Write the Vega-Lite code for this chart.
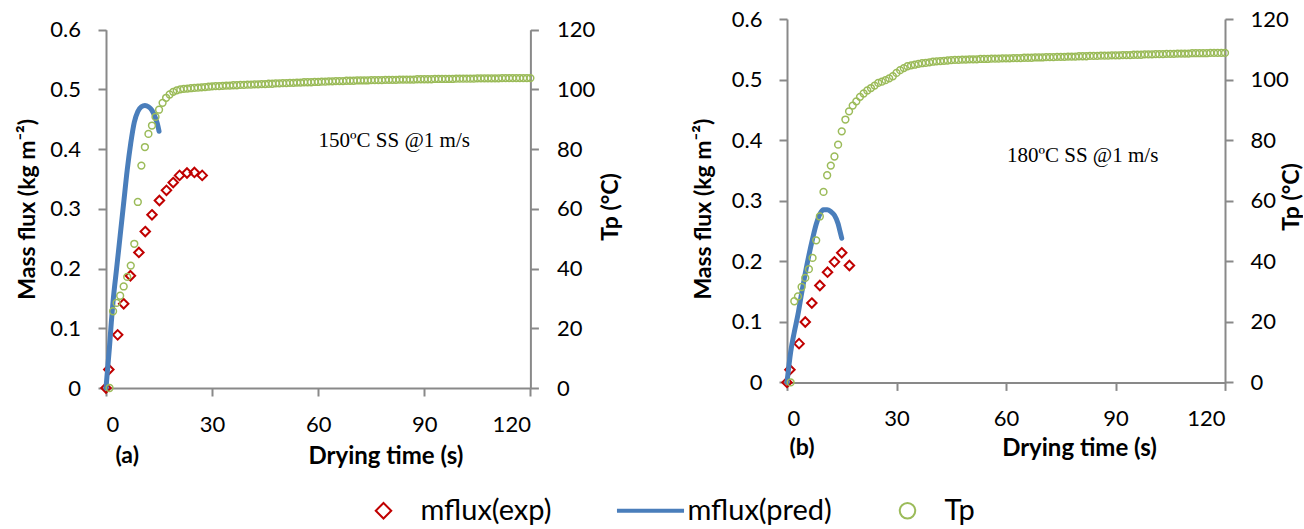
{
  "$schema": "https://vega.github.io/schema/vega-lite/v6.json",
  "background": "white",
  "padding": {"left": 16, "top": 8, "right": 0, "bottom": 0},
  "bounds": "flush",
  "spacing": 256,
  "config": {
    "view": {"stroke": null},
    "font": "Lato",
    "axis": {
      "domainColor": "#898989", "domainWidth": 2,
      "tickColor": "#898989", "tickWidth": 2, "tickSize": 8,
      "grid": false,
      "labelFont": "Lato", "labelFontSize": 22, "labelColor": "#000000", "labelPadding": 18,
      "titleFont": "Lato", "titleFontSize": 23, "titleFontWeight": "bold", "titleColor": "#000000"
    },
    "axisX": {"titleFontSize": 24},
    "legend": {
      "orient": "none", "legendX": 263, "legendY": 477, "direction": "horizontal",
      "labelFont": "Lato", "labelFontSize": 29, "labelColor": "#000000",
      "symbolSize": 240, "symbolStrokeWidth": 2, "labelOffset": 22.5, "columnPadding": 61, "padding": 0
    }
  },
  "datasets": {
    "aPred": [
      {"t": 0, "mflux": 0}, {"t": 0.5, "mflux": 0.035}, {"t": 1, "mflux": 0.07}, {"t": 1.5, "mflux": 0.11},
      {"t": 2, "mflux": 0.145}, {"t": 3, "mflux": 0.2}, {"t": 4, "mflux": 0.255}, {"t": 5, "mflux": 0.31},
      {"t": 6, "mflux": 0.365}, {"t": 7, "mflux": 0.41}, {"t": 8, "mflux": 0.445}, {"t": 9, "mflux": 0.463},
      {"t": 10, "mflux": 0.471}, {"t": 11, "mflux": 0.473}, {"t": 12, "mflux": 0.471}, {"t": 13, "mflux": 0.465},
      {"t": 14, "mflux": 0.452}, {"t": 14.5, "mflux": 0.443}, {"t": 15, "mflux": 0.43}
    ],
    "aExp": [
      {"t": 0, "mflux": 0}, {"t": 0.8, "mflux": 0.031}, {"t": 3.3, "mflux": 0.089}, {"t": 5, "mflux": 0.141},
      {"t": 6.9, "mflux": 0.188}, {"t": 9.3, "mflux": 0.227}, {"t": 11.1, "mflux": 0.262}, {"t": 13, "mflux": 0.29},
      {"t": 15.1, "mflux": 0.314}, {"t": 17.1, "mflux": 0.331}, {"t": 19, "mflux": 0.344}, {"t": 20.8, "mflux": 0.356},
      {"t": 22.9, "mflux": 0.36}, {"t": 25, "mflux": 0.361}, {"t": 27.2, "mflux": 0.356}
    ],
    "aTp": [
      {"t": 1, "Tp": 0}, {"t": 2, "Tp": 25.7}, {"t": 3, "Tp": 28.5}, {"t": 4, "Tp": 30.9}, {"t": 5, "Tp": 34.0},
      {"t": 6, "Tp": 37.2}, {"t": 7, "Tp": 41.0}, {"t": 8, "Tp": 48.3}, {"t": 9, "Tp": 62.3}, {"t": 10, "Tp": 74.5},
      {"t": 11, "Tp": 80.7}, {"t": 12, "Tp": 85.1}, {"t": 13, "Tp": 87.9}, {"t": 14, "Tp": 90.8}, {"t": 15, "Tp": 93.2},
      {"t": 16, "Tp": 95.5}, {"t": 17, "Tp": 97.2}, {"t": 18, "Tp": 98.3}, {"t": 19, "Tp": 99.2}, {"t": 20, "Tp": 99.7},
      {"t": 21, "Tp": 100.0}, {"t": 22, "Tp": 100.2}, {"t": 23, "Tp": 100.3}, {"t": 24, "Tp": 100.4}, {"t": 25, "Tp": 100.5},
      {"t": 26, "Tp": 100.6}, {"t": 27, "Tp": 100.7}, {"t": 28, "Tp": 100.8}, {"t": 29, "Tp": 100.9}, {"t": 30, "Tp": 101.0},
      {"t": 31, "Tp": 101.1}, {"t": 32, "Tp": 101.1}, {"t": 33, "Tp": 101.2}, {"t": 34, "Tp": 101.3}, {"t": 35, "Tp": 101.3},
      {"t": 36, "Tp": 101.4}, {"t": 37, "Tp": 101.4}, {"t": 38, "Tp": 101.5}, {"t": 39, "Tp": 101.5}, {"t": 40, "Tp": 101.6},
      {"t": 41, "Tp": 101.6}, {"t": 42, "Tp": 101.7}, {"t": 43, "Tp": 101.7}, {"t": 44, "Tp": 101.8}, {"t": 45, "Tp": 101.8},
      {"t": 46, "Tp": 101.9}, {"t": 47, "Tp": 101.9}, {"t": 48, "Tp": 102.0}, {"t": 49, "Tp": 102.0}, {"t": 50, "Tp": 102.1},
      {"t": 51, "Tp": 102.1}, {"t": 52, "Tp": 102.2}, {"t": 53, "Tp": 102.2}, {"t": 54, "Tp": 102.3}, {"t": 55, "Tp": 102.3},
      {"t": 56, "Tp": 102.4}, {"t": 57, "Tp": 102.4}, {"t": 58, "Tp": 102.4}, {"t": 59, "Tp": 102.5}, {"t": 60, "Tp": 102.5},
      {"t": 61, "Tp": 102.6}, {"t": 62, "Tp": 102.6}, {"t": 63, "Tp": 102.7}, {"t": 64, "Tp": 102.7}, {"t": 65, "Tp": 102.8},
      {"t": 66, "Tp": 102.8}, {"t": 67, "Tp": 102.8}, {"t": 68, "Tp": 102.9}, {"t": 69, "Tp": 102.9}, {"t": 70, "Tp": 102.9},
      {"t": 71, "Tp": 103.0}, {"t": 72, "Tp": 103.0}, {"t": 73, "Tp": 103.0}, {"t": 74, "Tp": 103.0}, {"t": 75, "Tp": 103.1},
      {"t": 76, "Tp": 103.1}, {"t": 77, "Tp": 103.1}, {"t": 78, "Tp": 103.1}, {"t": 79, "Tp": 103.2}, {"t": 80, "Tp": 103.2},
      {"t": 81, "Tp": 103.2}, {"t": 82, "Tp": 103.2}, {"t": 83, "Tp": 103.3}, {"t": 84, "Tp": 103.3}, {"t": 85, "Tp": 103.3},
      {"t": 86, "Tp": 103.3}, {"t": 87, "Tp": 103.3}, {"t": 88, "Tp": 103.4}, {"t": 89, "Tp": 103.4}, {"t": 90, "Tp": 103.4},
      {"t": 91, "Tp": 103.4}, {"t": 92, "Tp": 103.4}, {"t": 93, "Tp": 103.5}, {"t": 94, "Tp": 103.5}, {"t": 95, "Tp": 103.5},
      {"t": 96, "Tp": 103.5}, {"t": 97, "Tp": 103.5}, {"t": 98, "Tp": 103.5}, {"t": 99, "Tp": 103.6}, {"t": 100, "Tp": 103.6},
      {"t": 101, "Tp": 103.6}, {"t": 102, "Tp": 103.6}, {"t": 103, "Tp": 103.6}, {"t": 104, "Tp": 103.6}, {"t": 105, "Tp": 103.7},
      {"t": 106, "Tp": 103.7}, {"t": 107, "Tp": 103.7}, {"t": 108, "Tp": 103.7}, {"t": 109, "Tp": 103.7}, {"t": 110, "Tp": 103.7},
      {"t": 111, "Tp": 103.7}, {"t": 112, "Tp": 103.8}, {"t": 113, "Tp": 103.8}, {"t": 114, "Tp": 103.8}, {"t": 115, "Tp": 103.8},
      {"t": 116, "Tp": 103.8}, {"t": 117, "Tp": 103.8}, {"t": 118, "Tp": 103.8}, {"t": 119, "Tp": 103.8}, {"t": 120, "Tp": 103.8}
    ],
    "bPred": [
      {"t": 0, "mflux": 0}, {"t": 1, "mflux": 0.05}, {"t": 2, "mflux": 0.083}, {"t": 3, "mflux": 0.112},
      {"t": 4, "mflux": 0.147}, {"t": 5, "mflux": 0.18}, {"t": 6, "mflux": 0.21}, {"t": 7, "mflux": 0.237},
      {"t": 8, "mflux": 0.261}, {"t": 9, "mflux": 0.278}, {"t": 10, "mflux": 0.285}, {"t": 11, "mflux": 0.285},
      {"t": 12, "mflux": 0.282}, {"t": 13, "mflux": 0.276}, {"t": 14, "mflux": 0.262}, {"t": 14.5, "mflux": 0.25},
      {"t": 15, "mflux": 0.238}
    ],
    "bExp": [
      {"t": 0, "mflux": 0}, {"t": 0.8, "mflux": 0.021}, {"t": 3.3, "mflux": 0.064}, {"t": 5, "mflux": 0.0997},
      {"t": 6.8, "mflux": 0.131}, {"t": 9, "mflux": 0.16}, {"t": 11.1, "mflux": 0.182}, {"t": 13, "mflux": 0.199},
      {"t": 15, "mflux": 0.214}, {"t": 17.1, "mflux": 0.193}
    ],
    "bTp": [
      {"t": 1, "Tp": 0}, {"t": 2, "Tp": 26.8}, {"t": 3, "Tp": 28.4}, {"t": 4, "Tp": 31.5}, {"t": 5, "Tp": 34.5},
      {"t": 6, "Tp": 37.4}, {"t": 7, "Tp": 41.1}, {"t": 8, "Tp": 46.9}, {"t": 9, "Tp": 54.8}, {"t": 10, "Tp": 62.9},
      {"t": 11, "Tp": 68.4}, {"t": 12, "Tp": 71.6}, {"t": 13, "Tp": 74.6}, {"t": 14, "Tp": 78.5}, {"t": 15, "Tp": 82.9},
      {"t": 16, "Tp": 86.8}, {"t": 17, "Tp": 89.5}, {"t": 18, "Tp": 91.4}, {"t": 19, "Tp": 92.8}, {"t": 20, "Tp": 94.3},
      {"t": 21, "Tp": 95.4}, {"t": 22, "Tp": 96.4}, {"t": 23, "Tp": 97.2}, {"t": 24, "Tp": 98.0}, {"t": 25, "Tp": 98.9},
      {"t": 26, "Tp": 99.3}, {"t": 27, "Tp": 99.8}, {"t": 28, "Tp": 100.4}, {"t": 29, "Tp": 101.1}, {"t": 30, "Tp": 102.2},
      {"t": 31, "Tp": 103.1}, {"t": 32, "Tp": 103.8}, {"t": 33, "Tp": 104.4}, {"t": 34, "Tp": 104.7}, {"t": 35, "Tp": 104.9},
      {"t": 36, "Tp": 105.2}, {"t": 37, "Tp": 105.4}, {"t": 38, "Tp": 105.5}, {"t": 39, "Tp": 105.7}, {"t": 40, "Tp": 105.9},
      {"t": 41, "Tp": 106.0}, {"t": 42, "Tp": 106.1}, {"t": 43, "Tp": 106.2}, {"t": 44, "Tp": 106.3}, {"t": 45, "Tp": 106.4},
      {"t": 46, "Tp": 106.5}, {"t": 47, "Tp": 106.5}, {"t": 48, "Tp": 106.6}, {"t": 49, "Tp": 106.6}, {"t": 50, "Tp": 106.7},
      {"t": 51, "Tp": 106.7}, {"t": 52, "Tp": 106.7}, {"t": 53, "Tp": 106.8}, {"t": 54, "Tp": 106.8}, {"t": 55, "Tp": 106.8},
      {"t": 56, "Tp": 106.9}, {"t": 57, "Tp": 106.9}, {"t": 58, "Tp": 106.9}, {"t": 59, "Tp": 107.0}, {"t": 60, "Tp": 107.0},
      {"t": 61, "Tp": 107.0}, {"t": 62, "Tp": 107.1}, {"t": 63, "Tp": 107.1}, {"t": 64, "Tp": 107.1}, {"t": 65, "Tp": 107.2},
      {"t": 66, "Tp": 107.2}, {"t": 67, "Tp": 107.2}, {"t": 68, "Tp": 107.3}, {"t": 69, "Tp": 107.3}, {"t": 70, "Tp": 107.3},
      {"t": 71, "Tp": 107.4}, {"t": 72, "Tp": 107.4}, {"t": 73, "Tp": 107.4}, {"t": 74, "Tp": 107.5}, {"t": 75, "Tp": 107.5},
      {"t": 76, "Tp": 107.5}, {"t": 77, "Tp": 107.6}, {"t": 78, "Tp": 107.6}, {"t": 79, "Tp": 107.6}, {"t": 80, "Tp": 107.7},
      {"t": 81, "Tp": 107.7}, {"t": 82, "Tp": 107.7}, {"t": 83, "Tp": 107.8}, {"t": 84, "Tp": 107.8}, {"t": 85, "Tp": 107.8},
      {"t": 86, "Tp": 107.9}, {"t": 87, "Tp": 107.9}, {"t": 88, "Tp": 107.9}, {"t": 89, "Tp": 108.0}, {"t": 90, "Tp": 108.0},
      {"t": 91, "Tp": 108.0}, {"t": 92, "Tp": 108.1}, {"t": 93, "Tp": 108.1}, {"t": 94, "Tp": 108.1}, {"t": 95, "Tp": 108.2},
      {"t": 96, "Tp": 108.2}, {"t": 97, "Tp": 108.2}, {"t": 98, "Tp": 108.3}, {"t": 99, "Tp": 108.3}, {"t": 100, "Tp": 108.3},
      {"t": 101, "Tp": 108.4}, {"t": 102, "Tp": 108.4}, {"t": 103, "Tp": 108.4}, {"t": 104, "Tp": 108.5}, {"t": 105, "Tp": 108.5},
      {"t": 106, "Tp": 108.5}, {"t": 107, "Tp": 108.6}, {"t": 108, "Tp": 108.6}, {"t": 109, "Tp": 108.6}, {"t": 110, "Tp": 108.6},
      {"t": 111, "Tp": 108.7}, {"t": 112, "Tp": 108.7}, {"t": 113, "Tp": 108.7}, {"t": 114, "Tp": 108.7}, {"t": 115, "Tp": 108.7},
      {"t": 116, "Tp": 108.8}, {"t": 117, "Tp": 108.8}, {"t": 118, "Tp": 108.8}, {"t": 119, "Tp": 108.8}, {"t": 120, "Tp": 108.8}
    ]
  },
  "hconcat": [
    {
      "width": 424.4,
      "height": 369,
      "layer": [
        {
          "layer": [
            {
              "data": {"name": "aExp"},
              "mark": {"type": "point", "filled": false, "size": 90, "strokeWidth": 2, "opacity": 1},
              "encoding": {
                "x": {"field": "t", "type": "quantitative", "title": "Drying time (s)", "scale": {"domain": [0, 120], "nice": false},
                      "axis": {"values": [0, 30, 60, 90, 120], "titleX": 279.4, "titleY": 68.4, "titleBaseline": "middle", "titleAlign": "center"}},
                "y": {"field": "mflux", "type": "quantitative", "title": "Mass flux (kg m⁻²)", "scale": {"domain": [0, 0.6], "nice": false, "range": [369, 10.7]},
                      "axis": {"values": [0, 0.1, 0.2, 0.3, 0.4, 0.5, 0.6], "format": "~g", "titleX": -78.1, "titleY": 189.8, "titleBaseline": "middle", "titleAlign": "center", "titleAngle": -90, "labelPadding": 17.6}},
                "color": {"datum": "mflux(exp)", "type": "nominal",
                          "scale": {"domain": ["mflux(exp)", "mflux(pred)", "Tp"], "range": ["#c00000", "#4a7ebb", "#9bbb59"]},
                          "legend": {"title": null}},
                "shape": {"datum": "mflux(exp)", "type": "nominal",
                          "scale": {"domain": ["mflux(exp)", "mflux(pred)", "Tp"], "range": ["M0,-1L1,0L0,1L-1,0Z", "M-4.2,-0.13H4.2V0.13H-4.2Z", "M-1,0A1,1 0 1,0 1,0A1,1 0 1,0 -1,0Z"]},
                          "legend": {"title": null}}
              }
            },
            {
              "data": {"name": "aPred"},
              "mark": {"type": "line", "strokeWidth": 5, "strokeCap": "round", "interpolate": "monotone"},
              "encoding": {
                "x": {"field": "t", "type": "quantitative", "title": "Drying time (s)"},
                "y": {"field": "mflux", "type": "quantitative", "title": "Mass flux (kg m⁻²)"},
                "color": {"datum": "mflux(pred)", "type": "nominal"}
              }
            },
            {
              "data": {"values": [{}]},
              "mark": {"type": "text", "font": "Liberation Serif", "fontSize": 21, "align": "center", "baseline": "middle", "color": "#000000", "text": "150ºC SS @1 m/s"},
              "encoding": {
                "x": {"datum": 81.5, "type": "quantitative", "title": "Drying time (s)"},
                "y": {"datum": 0.413, "type": "quantitative", "title": "Mass flux (kg m⁻²)"}
              }
            },
            {
              "data": {"values": [{}]},
              "mark": {"type": "text", "font": "Lato", "fontSize": 23, "fontWeight": "bold", "align": "center", "baseline": "middle", "color": "#000000", "text": "(a)"},
              "encoding": {
                "x": {"datum": 6.0, "type": "quantitative", "title": "Drying time (s)"},
                "y": {"datum": -0.1145, "type": "quantitative", "title": "Mass flux (kg m⁻²)"}
              }
            }
          ]
        },
        {
          "data": {"name": "aTp"},
          "mark": {"type": "point", "filled": false, "size": 46, "strokeWidth": 1.5, "opacity": 1},
          "encoding": {
            "x": {"field": "t", "type": "quantitative", "title": "Drying time (s)"},
            "y": {"field": "Tp", "type": "quantitative", "title": "Tp (°C)", "scale": {"domain": [0, 120], "nice": false, "range": [369, 10.7]},
                  "axis": {"orient": "right", "values": [0, 20, 40, 60, 80, 100, 120], "titleX": 80, "titleY": 187.4, "titleBaseline": "middle", "titleAlign": "center", "titleAngle": -90, "labelPadding": 18}},
            "color": {"datum": "Tp", "type": "nominal"},
            "shape": {"datum": "Tp", "type": "nominal"}
          }
        }
      ],
      "resolve": {"scale": {"y": "independent"}}
    },
    {
      "width": 438,
      "height": 363.4,
      "layer": [
        {
          "layer": [
            {
              "data": {"name": "bExp"},
              "mark": {"type": "point", "filled": false, "size": 90, "strokeWidth": 2, "opacity": 1},
              "encoding": {
                "x": {"field": "t", "type": "quantitative", "title": "Drying time (s)", "scale": {"domain": [0, 120], "nice": false},
                      "axis": {"values": [0, 30, 60, 90, 120], "titleX": 292, "titleY": 65.6, "titleBaseline": "middle", "titleAlign": "center"}},
                "y": {"field": "mflux", "type": "quantitative", "title": "Mass flux (kg m⁻²)", "scale": {"domain": [0, 0.6], "nice": false},
                      "axis": {"values": [0, 0.1, 0.2, 0.3, 0.4, 0.5, 0.6], "format": "~g", "titleX": -84, "titleY": 189.7, "titleBaseline": "middle", "titleAlign": "center", "titleAngle": -90, "labelPadding": 17}},
                "color": {"datum": "mflux(exp)", "type": "nominal"},
                "shape": {"datum": "mflux(exp)", "type": "nominal"}
              }
            },
            {
              "data": {"name": "bPred"},
              "mark": {"type": "line", "strokeWidth": 5, "strokeCap": "round", "interpolate": "monotone"},
              "encoding": {
                "x": {"field": "t", "type": "quantitative", "title": "Drying time (s)"},
                "y": {"field": "mflux", "type": "quantitative", "title": "Mass flux (kg m⁻²)"},
                "color": {"datum": "mflux(pred)", "type": "nominal"}
              }
            },
            {
              "data": {"values": [{}]},
              "mark": {"type": "text", "font": "Liberation Serif", "fontSize": 21, "align": "center", "baseline": "middle", "color": "#000000", "text": "180ºC SS @1 m/s"},
              "encoding": {
                "x": {"datum": 81.0, "type": "quantitative", "title": "Drying time (s)"},
                "y": {"datum": 0.373, "type": "quantitative", "title": "Mass flux (kg m⁻²)"}
              }
            },
            {
              "data": {"values": [{}]},
              "mark": {"type": "text", "font": "Lato", "fontSize": 23, "fontWeight": "bold", "align": "center", "baseline": "middle", "color": "#000000", "text": "(b)"},
              "encoding": {
                "x": {"datum": 4.1, "type": "quantitative", "title": "Drying time (s)"},
                "y": {"datum": -0.1083, "type": "quantitative", "title": "Mass flux (kg m⁻²)"}
              }
            }
          ]
        },
        {
          "data": {"name": "bTp"},
          "mark": {"type": "point", "filled": false, "size": 46, "strokeWidth": 1.5, "opacity": 1},
          "encoding": {
            "x": {"field": "t", "type": "quantitative", "title": "Drying time (s)"},
            "y": {"field": "Tp", "type": "quantitative", "title": "Tp (°C)", "scale": {"domain": [0, 120], "nice": false},
                  "axis": {"orient": "right", "values": [0, 20, 40, 60, 80, 100, 120], "titleX": 66, "titleY": 177.4, "titleBaseline": "middle", "titleAlign": "center", "titleAngle": -90, "labelPadding": 17}},
            "color": {"datum": "Tp", "type": "nominal"},
            "shape": {"datum": "Tp", "type": "nominal"}
          }
        }
      ],
      "resolve": {"scale": {"y": "independent"}}
    }
  ]
}
